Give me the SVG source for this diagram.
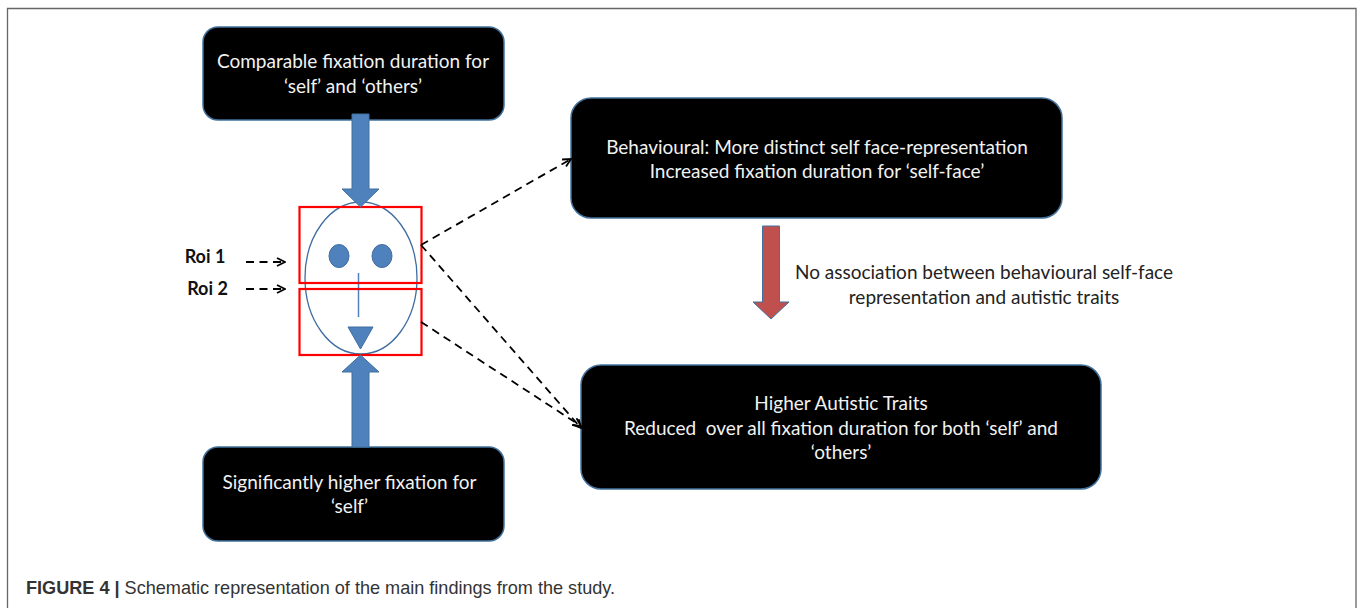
<svg xmlns="http://www.w3.org/2000/svg" width="1357" height="608" viewBox="0 0 1357 608">
<style>
.box{fill:#000;stroke:#41719c;stroke-width:1.5}
.t{font-family:Lato,"Open Sans","Liberation Sans",sans-serif;font-size:19px;fill:#f2f2f2;text-anchor:middle;white-space:pre}
.d{font-family:Lato,"Open Sans","Liberation Sans",sans-serif;font-size:19px;fill:#222;text-anchor:middle}
.r{font-family:Lato,"Open Sans","Liberation Sans",sans-serif;font-size:18px;font-weight:700;fill:#111;text-anchor:middle}
.dash{fill:none;stroke:#000;stroke-width:1.800;stroke-dasharray:8 5.500;marker-end:url(#a)}
.roi{fill:none;stroke:#f00;stroke-width:2.200}
.face{fill:#4f81bd;stroke:#3f6d9f;stroke-width:1}
.big{fill:#4f81bd;stroke:#41719c;stroke-width:1}
</style>
<defs>
<marker id="a" viewBox="0 0 10 10" refX="9" refY="5" markerWidth="10" markerHeight="10" markerUnits="userSpaceOnUse" orient="auto"><path d="M1 1L9 5L1 9" fill="none" stroke="#000" stroke-width="1.800"/></marker>
</defs>
<rect width="1357" height="608" fill="#fff"/>
<path id="frame" d="M7.500 608V8.500H1356V608" fill="none" stroke="#666" stroke-width="1.300"/>
<g id="node-top"><rect class="box" x="203" y="27" width="301" height="93" rx="15"/><text class="t" x="353" y="68">Comparable fixation duration for</text><text class="t" x="353" y="93">‘self’ and ‘others’</text></g>
<g id="node-bottom"><rect class="box" x="203" y="447" width="301" height="94" rx="15"/><text class="t" x="349.500" y="489">Significantly higher fixation for</text><text class="t" x="349.500" y="513">‘self’</text></g>
<g id="node-behavioural"><rect class="box" x="571" y="98" width="491" height="120" rx="20"/><text class="t" x="817" y="154">Behavioural: More distinct self face-representation</text><text class="t" x="817" y="178">Increased fixation duration for ‘self-face’</text></g>
<g id="node-autistic"><rect class="box" x="581" y="365" width="520" height="124" rx="20"/><text class="t" x="841" y="410">Higher Autistic Traits</text><text class="t" x="841" y="435">Reduced  over all fixation duration for both ‘self’ and</text><text class="t" x="841" y="459">‘others’</text></g>
<g id="node-face">
<ellipse cx="361" cy="278" rx="56" ry="76" fill="#fff" stroke="#3f6d9f" stroke-width="1.300"/>
<ellipse class="face" cx="339" cy="256" rx="10" ry="11.500"/><ellipse class="face" cx="382" cy="256" rx="10" ry="11.500"/>
<path d="M358.500 273V317" stroke="#4f81bd" stroke-width="1.500"/>
<path class="face" d="M348 327H373L360.500 349Z"/>
<rect class="roi" x="299.500" y="207" width="122" height="76"/><rect class="roi" x="299.500" y="289" width="122" height="66"/>
</g>
<g id="node-roi1"><text class="r" x="205" y="263">Roi 1</text></g>
<g id="node-roi2"><text class="r" x="207.500" y="295">Roi 2</text></g>
<g id="connectors">
<path class="big" d="M352 114H369V189H379L360.500 207L342 189H352Z"/>
<path class="big" d="M352 447H369V372H379L360.500 355L342 372H352Z"/>
<path d="M762.500 226H779.500V302H789L771 319L753 302H762.500Z" fill="#c0504d" stroke="#41719c" stroke-width="1"/>
<path class="dash" d="M246 262H285"/><path class="dash" d="M246 289H285"/>
<path class="dash" d="M421 245L571 159"/><path class="dash" d="M421 245L581 428"/><path class="dash" d="M421 322L581 426"/>
</g>
<text class="d" x="984" y="279">No association between behavioural self-face</text>
<text class="d" x="984" y="304">representation and autistic traits</text>
<text x="26" y="594" font-family="Liberation Sans,sans-serif" font-size="18.100px" fill="#333"><tspan font-weight="700">FIGURE 4 | </tspan>Schematic representation of the main findings from the study.</text>
</svg>
